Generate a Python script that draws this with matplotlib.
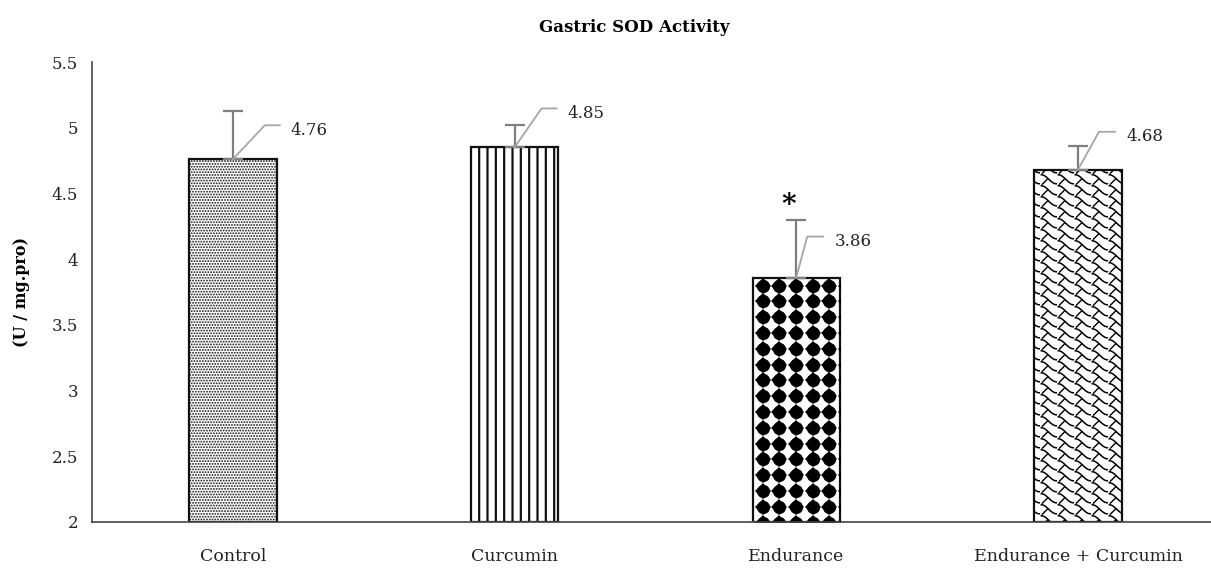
import numpy as np
import matplotlib
matplotlib.use("Agg")
import matplotlib.pyplot as plt
from matplotlib.transforms import IdentityTransform

# data
groups = ["Control", "Curcumin", "Endurance", "Endurance + Curcumin"]
means = [4.76, 4.85, 3.86, 4.68]
errors = [0.37, 0.17, 0.44, 0.18]
labels = ["4.76", "4.85", "3.86", "4.68"]
signif = ["", "", "*", ""]
yticks = [2, 2.5, 3, 3.5, 4, 4.5, 5, 5.5]
ytick_labels = ["2", "2.5", "3", "3.5", "4", "4.5", "5", "5.5"]

# leader line offsets in pixels: (dx to corner, dy to corner, horizontal length)
leader = [(32, 34, 15), (27, 39, 15), (11, 41, 16), (21, 38, 16)]

plt.rcParams['font.family'] = ['DejaVu Serif']
plt.rcParams['hatch.linewidth'] = 1.6
fig = plt.figure(figsize=(12.11, 5.68), dpi=100)
ax = fig.add_axes([92/1211, 46/568, 1119/1211, 460/568])

x = np.arange(len(groups))
bars = ax.bar(x, [m - 2 for m in means], bottom=2, width=0.31,
              color="white", edgecolor="#111111", linewidth=1.6, zorder=2)
bars[1].set_hatch("||")
bars[0].set_hatch("......")
bars[0]._hatch_linewidth = 0.9

ax.errorbar(x, means, yerr=[np.zeros(4), errors], fmt="none",
            ecolor="#7f7f7f", elinewidth=1.6, capsize=7, capthick=1.6, zorder=3)

ax.set_xlim(-0.5, -0.5 + 1119/281.7)
ax.set_ylim(2, 5.5)
ax.set_yticks(yticks)
ax.set_yticklabels(ytick_labels, fontsize=12, color="#222222")
ax.set_xticks(x)
ax.set_xticklabels(groups, fontsize=12.5, color="#222222")
ax.tick_params(axis="both", length=0, pad=10)
ax.tick_params(axis="x", pad=19)
for s in ["top", "right"]:
    ax.spines[s].set_visible(False)
for s in ["left", "bottom"]:
    ax.spines[s].set_color("#444444")
    ax.spines[s].set_linewidth(1.2)

ax.set_ylabel("(U / mg.pro)", fontsize=11.5, fontweight="bold", labelpad=16)
fig.text(634/1211, 1 - 28/568, "Gastric SOD Activity", ha="center", va="center",
         fontsize=12, fontweight="bold")

# textures drawn in pixel space, clipped to the bars
def bar_px(b):
    x0, y0 = ax.transData.transform((b.get_x(), b.get_y()))
    x1, y1 = ax.transData.transform((b.get_x() + b.get_width(), b.get_y() + b.get_height()))
    return x0, y0, x1, y1

# Endurance: black rounded diamonds
x0, y0, x1, y1 = bar_px(bars[2])
gx, gy = np.meshgrid(np.arange(x0 + 10, x1 + 8, 16.7), np.arange(y1 - 8, y0 - 8, -15.8))
for mk, ms in [("o", 9.5), ("D", 8.5)]:
    ln, = ax.plot(gx.ravel(), gy.ravel(), mk, ms=ms, color="black", mec="black", mew=0,
                  transform=IdentityTransform(), zorder=2.5)
    ln.set_clip_path(bars[2])

# Endurance + Curcumin: scale-like S curves
x0, y0, x1, y1 = bar_px(bars[3])
t = np.linspace(0, 1, 30)
for ys in np.arange(y1 + 6, y0 - 12, -11):
    for xs in np.arange(x0 - 10, x1 + 10, 17):
        px = xs + 15 * t
        py = ys - 9 * (0.5 - 0.5 * np.cos(np.pi * t))
        ln, = ax.plot(px, py, color="black", lw=1.1, transform=IdentityTransform(), zorder=2.5)
        ln.set_clip_path(bars[3])
        # short hook back to the lower left, closing the scale
        ln2, = ax.plot(xs + 6 - 5 * t, ys - 4.5 - 5 * t, color="black", lw=1.0,
                       transform=IdentityTransform(), zorder=2.5)
        ln2.set_clip_path(bars[3])

# leader lines and value labels
for i, b in enumerate(bars):
    bx, by = ax.transData.transform((x[i], means[i]))
    dx, dy, h = leader[i]
    ax.plot([bx, bx + dx, bx + dx + h], [by, by + dy, by + dy], color="#a6a6a6", lw=1.3,
            transform=IdentityTransform(), zorder=4, clip_on=False)
    fig.text((bx + dx + h + 11) / 1211, (by + dy - 5) / 568, labels[i],
             ha="left", va="center", fontsize=12, color="#222222")
    if signif[i]:
        ex, ey = ax.transData.transform((x[i], means[i] + errors[i]))
        fig.text((ex - 8) / 1211, (ey + 14) / 568, signif[i], ha="center", va="center",
                 fontsize=20, fontweight="bold")

fig.savefig("out.png", dpi=100)
